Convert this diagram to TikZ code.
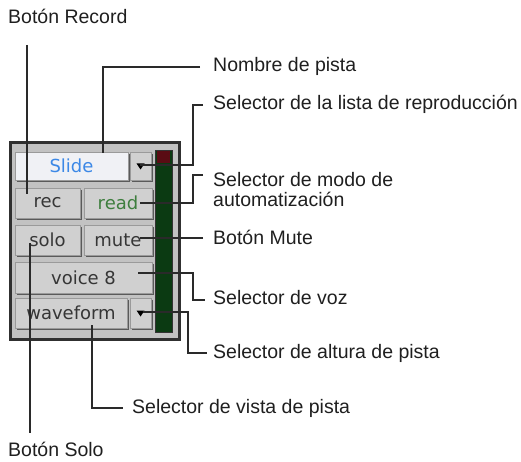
\documentclass[tikz,border=0pt]{standalone}
\usepackage{fontspec}
\setmainfont{Liberation Sans}
\newfontfamily\btnfont{DejaVu Sans}
\usetikzlibrary{shadows,calc}
\definecolor{leader}{HTML}{2A2A2A}
\definecolor{frameline}{HTML}{303030}
\definecolor{panel}{HTML}{C2C2C2}
\definecolor{btnfill}{HTML}{D0D0D0}
\definecolor{btnedge}{HTML}{9A9A9A}
\definecolor{btnshadow}{HTML}{5A5A5A}
\definecolor{btntext}{HTML}{363636}
\definecolor{slidefill}{HTML}{F0F1F5}
\definecolor{slideblue}{HTML}{3C88E6}
\definecolor{readgreen}{HTML}{3E7E3E}
\definecolor{meterg}{HTML}{0B3A12}
\definecolor{meterr}{HTML}{5A0C14}
\tikzset{
  lbl/.style={anchor=base west, inner sep=0pt, font=\fontsize{19.5}{23}\selectfont, text=black!88},
  btn/.style={draw=btnedge, line width=0.8pt, fill=btnfill, inner sep=0pt,
     font=\btnfont\fontsize{18}{20}\selectfont, text=btntext,
     drop shadow={shadow xshift=1.6pt, shadow yshift=-1.8pt, fill=btnshadow, opacity=1}},
  leadline/.style={draw=leader, line width=1.2pt},
  tri/.style={fill=black}
}
\begin{document}
\begin{tikzpicture}[x=1pt,y=-1pt]
\useasboundingbox (0,0) rectangle (521,462);
% frame
\node[draw=frameline, line width=3pt, fill=panel, minimum width=169pt, minimum height=196pt, inner sep=0pt] (frame) at (94.5,241) {};
% meter
\node[draw=black!80, line width=0.8pt, fill=meterg, minimum width=17pt, minimum height=182pt, inner sep=0pt] (meter) at (163.5,241) {};
\node[fill=meterr, minimum width=13pt, minimum height=12pt, inner sep=0pt] (clip) at (163.5,157) {};
% buttons
\node[btn, fill=slidefill, minimum width=113pt, minimum height=28pt, text=slideblue] (slide) at (71.5,166) {Slide};
\node[btn, minimum width=21pt, minimum height=28pt] (plist) at (140.5,166) {};
\node[btn, minimum width=65pt, minimum height=30pt] (rec) at (47.5,203) {rec};
\node[btn, minimum width=68pt, minimum height=30pt, text=readgreen] (read) at (118,203) {read};
\node[btn, minimum width=65pt, minimum height=30pt] (solo) at (47.5,240) {solo};
\node[btn, minimum width=68pt, minimum height=30pt] (mute) at (118,240) {mute};
\node[btn, minimum width=137pt, minimum height=31pt] (voice) at (83.5,277.5) {voice 8};
\node[btn, minimum width=112pt, minimum height=30pt] (wave) at (71,313) {waveform};
\node[btn, minimum width=21pt, minimum height=30pt] (hgt) at (140.5,313) {};
\fill[tri] ($(plist.center)+(-4,-2.5)$) -- ++(8,0) -- ++(-4,6) -- cycle;
\fill[tri] ($(hgt.center)+(-4,-2.5)$) -- ++(8,0) -- ++(-4,6) -- cycle;
% labels
\node[lbl] (lrec) at (8,24) {Botón Record};
\node[lbl] (lname) at (213,72) {Nombre de pista};
\node[lbl] (lplist) at (213,110) {Selector de la lista de reproducción};
\node[lbl] (lauto1) at (213,187) {Selector de modo de};
\node[lbl] (lauto2) at (213,207) {automatización};
\node[lbl] (lmute) at (213,244) {Botón Mute};
\node[lbl] (lvoz) at (213,304) {Selector de voz};
\node[lbl] (lalt) at (213,358) {Selector de altura de pista};
\node[lbl] (lvista) at (132,413) {Selector de vista de pista};
\node[lbl] (lsolo) at (8,456) {Botón Solo};
% leader end points
\coordinate (rec0) at (27,45);   \coordinate (rec1) at (27,194);
\coordinate (nm0) at (200,67);   \coordinate (nm1) at (103,153);
\coordinate (pl0) at (203,105);  \coordinate (pl1) at (140,165);
\coordinate (au0) at (203,175);  \coordinate (au1) at (140,203);
\coordinate (mu0) at (203,238);  \coordinate (mu1) at (140,238);
\coordinate (vz0) at (138,273);  \coordinate (vz1) at (205,300);
\coordinate (al0) at (143,312);  \coordinate (al1) at (207,353);
\coordinate (vi0) at (92,325);   \coordinate (vi1) at (123,408);
\coordinate (so0) at (30,243);   \coordinate (so1) at (30,433);
\draw[leadline] (rec0) -- (rec1);
\draw[leadline] (nm0) -| (nm1);
\draw[leadline] (pl0) -- (193,105) |- (pl1);
\draw[leadline] (au0) -- (193,175) |- (au1);
\draw[leadline] (mu0) -- (mu1);
\draw[leadline] (vz0) -- (193,273) |- (vz1);
\draw[leadline] (al0) -- (188,312) |- (al1);
\draw[leadline] (vi0) |- (vi1);
\draw[leadline] (so0) -- (so1);
\end{tikzpicture}
\end{document}
